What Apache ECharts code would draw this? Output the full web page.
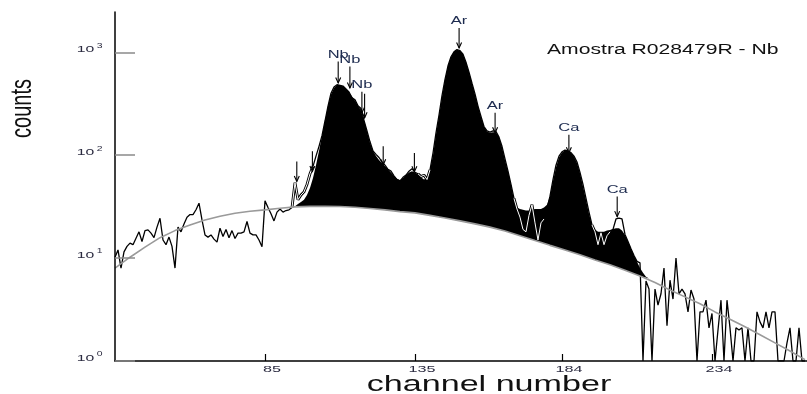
<!DOCTYPE html>
<html><head><meta charset="utf-8">
<script src="https://cdn.jsdelivr.net/npm/echarts@6/dist/echarts.min.js"></script>
<style>html,body{margin:0;padding:0;background:#fff}#c{width:807px;height:394px}</style>
</head><body><div id="c"></div>
<script>
// ---- data ----
const channelStart = 35; // counts[i] belongs to channel 35 + i
const counts = [
  10.2, 12, 8, 11.5, 13, 14, 13.5, 15.6, 18, 14.5,
  18.5, 18.8, 17.5, 15.8, 20, 24.4, 15, 13.5, 16, 13,
  8, 20, 18, 21.5, 25, 26.5, 26.5, 29.5, 34.2, 23.5,
  16.8, 16, 16.8, 15.3, 14.3, 19.5, 16.2, 19, 15.8, 18.5,
  15.5, 17.5, 17.5, 18, 22.7, 17.5, 16.8, 16.8, 15, 12.9,
  36, 31, 27, 23, 28, 30, 28, 29, 29.5, 31,
  54, 37, 41, 44, 52, 66, 78, 98, 122, 155,
  215, 300, 400, 460, 485, 478, 470, 440, 412, 362,
  345, 302, 285, 218, 172, 135, 110, 102, 95, 86,
  80, 73, 70, 63, 58, 56, 61, 64, 70, 74,
  68, 66, 62, 64, 58, 72, 105, 165, 245, 380,
  545, 740, 905, 1010, 1065, 1040, 960, 800, 640, 500,
  395, 300, 238, 190, 172, 168, 172, 170, 150, 122,
  92, 70, 52, 38, 30, 25, 19, 18, 26, 33,
  22, 15, 22, 24, 30, 40, 58, 80, 98, 108,
  112, 110, 106, 98, 86, 68, 52, 38, 28, 21,
  18, 13.5, 17.6, 13.5, 16.5, 18, 19, 24, 24.5, 24,
  17, 14.5, 12.3, 10.6, 9.3, 9, 1, 6, 5, 1,
  5, 3.5, 4.5, 8, 2.2, 6.1, 4, 10, 4.5, 5,
  4.5, 3, 4.9, 4, 1, 3, 3, 3.9, 2.1, 2.9,
  1, 2, 3.9, 1, 3.9, 2.1, 1, 2.1, 2, 2.1,
  1, 2.1, 1, 1, 3, 2.4, 2.1, 3, 2.1, 3,
  3, 1, 1, 1, 1.5, 2.1, 1, 1, 2.1, 1, 1
];
const bgChannels = [35,40,45,50,55,60,65,70,75,80,85,90,95,100,105,110,115,120,125,130,135,140,145,150,155,160,165,170,175,180,185,190,195,200,205,210,215,220,225,230,235,240,245,250,255,260,265];
const bgCounts = [8.0,10.2,12.8,15.8,18.5,21,23.5,25.5,27.3,28.5,29.4,30.5,31.5,31.8,31.8,31.7,31.2,30.3,29.4,28.3,27.5,26,24.5,23,21.5,20,18.3,16.5,14.8,13.3,12,10.8,9.6,8.6,7.6,6.7,5.8,4.9,4.2,3.6,3.0,2.55,2.15,1.8,1.5,1.25,1.03];
const fitStart = 93; // fitCounts[i] belongs to channel 93 + i
const fitCounts = [
  31.1, 31.4, 32, 33.5, 35, 37, 41, 48, 60, 80,
  110, 155, 215, 300, 390, 450, 480, 482, 468, 442,
  410, 372, 338, 305, 268, 222, 170, 132, 110, 98,
  90, 84, 78, 73, 68, 63, 59, 57.5, 60, 64,
  68, 70, 68, 65, 61, 58, 60, 72, 100, 160,
  240, 370, 540, 740, 900, 1010, 1060, 1040, 960, 800,
  640, 500, 390, 300, 235, 190, 170, 165, 167, 167,
  150, 120, 90, 70, 52, 37, 31, 30, 29.5, 29,
  29, 29.5, 30, 30, 30, 31, 33, 40, 56, 76,
  95, 106, 111, 110, 105, 97, 84, 67, 50, 37,
  27, 21, 19, 18, 18, 18, 18.5, 18.8, 19.2, 19.5,
  19.5, 18.5, 16.8, 14.5, 12.4, 10.6, 9.2, 8, 7.2, 6.6,
  6.35
];
// channel ranges where the spectrum trace shows as a white core line (over the fill)
const outlinedRanges = [[94, 101], [136, 140], [168, 178], [194, 200]];
const xTickValues = [85, 135, 184, 234];
const xTickLabels = ['85', '135', '184', '234'];
const yTickValues = [1, 10, 100, 1000];
const yTickExponents = ['0', '1', '2', '3'];
const annChannels = [95.6, 100.8, 109.4, 113.3, 117.3, 118.2, 124.4, 134.8, 149.7, 161.7, 186.3, 202.4];
const annTop      = [87, 109, 815, 729, 414, 396, 122, 105, 1722, 258, 158, 39.6];
const annBottom   = [55.5, 69.4, 503, 450, 257, 231, 80.6, 69, 1101, 165, 105.5, 25.3];
const annLabels   = ['', '', 'Nb', 'Nb', 'Nb', '', '', '', 'Ar', 'Ar', 'Ca', 'Ca'];
const sampleTitle = 'Amostra R028479R - Nb';
const xTitle = 'channel number';
const yTitle = 'counts';

// ---- chart ----
const FONT = 'Liberation Sans, Arial, sans-serif';
const chart = echarts.init(document.getElementById('c'), null, {renderer: 'canvas'});
const spectrum = counts.map((v, i) => [channelStart + i, v]);
const inRanges = c => outlinedRanges.some(r => c >= r[0] && c <= r[1]);
const outlined = counts.map((v, i) => [channelStart + i, inRanges(channelStart + i) ? v : '-']);
const background = bgChannels.map((c, i) => [c, bgCounts[i]]);

const option = {
  animation: false,
  backgroundColor: '#fff',
  grid: {left: 115, right: 0, top: 12, bottom: 33},
  xAxis: {
    type: 'value', min: 35, max: 265.67, z: 10,
    axisLine: {show: true, lineStyle: {color: '#000', width: 1.5}},
    axisTick: {show: true, inside: true, length: 7, customValues: xTickValues, lineStyle: {color: '#000', width: 1.2}},
    axisLabel: {show: false},
    splitLine: {show: false}
  },
  yAxis: {
    type: 'log', logBase: 10, min: 1, max: 2465, z: 10,
    axisLine: {show: true, lineStyle: {color: '#000', width: 1.5}},
    axisTick: {show: true, inside: true, length: 20, customValues: yTickValues, lineStyle: {color: '#8a8a8a', width: 1.5}},
    axisLabel: {show: false},
    splitLine: {show: false}
  },
  graphic: [
    {type: 'text', x: 23, y: 108.5, rotation: Math.PI / 2, scaleY: 1.5,
     style: {text: yTitle, fontSize: 20, fontFamily: FONT, fill: '#111', align: 'center', verticalAlign: 'middle'}},
    {type: 'text', x: 489, y: 385, scaleX: 1.55,
     style: {text: xTitle, fontSize: 22, fontFamily: FONT, fill: '#111', align: 'center', verticalAlign: 'middle'}},
    {type: 'text', x: 547, y: 50, scaleX: 1.51,
     style: {text: sampleTitle, fontSize: 14, fontFamily: FONT, fill: '#111', align: 'left', verticalAlign: 'middle'}}
  ],
  series: [
    { // fitted peaks filled above the background
      type: 'custom', z: 1, silent: true, clip: true,
      data: [[fitStart, fitCounts[0]]],
      renderItem: function (params, api) {
        const pts = [];
        fitCounts.forEach((v, i) => pts.push(api.coord([fitStart + i, v])));
        const fitEnd = fitStart + fitCounts.length - 1;
        for (let i = bgChannels.length - 1; i >= 0; i--) {
          if (bgChannels[i] > fitStart && bgChannels[i] < fitEnd) pts.push(api.coord([bgChannels[i], bgCounts[i]]));
        }
        return {type: 'polygon', shape: {points: pts}, style: {fill: '#000'}};
      }
    },
    {
      type: 'line', z: 3, data: spectrum, showSymbol: false, silent: true,
      lineStyle: {color: '#000', width: 1.3}
    },
    { // outlined segments: thick black + white core
      type: 'line', z: 3, data: outlined, showSymbol: false, silent: true, connectNulls: false,
      lineStyle: {color: '#000', width: 2.8}
    },
    {
      type: 'line', z: 3, data: outlined, showSymbol: false, silent: true, connectNulls: false,
      lineStyle: {color: '#fff', width: 1.0}
    },
    {
      type: 'line', z: 4, data: background, showSymbol: false, silent: true,
      lineStyle: {color: '#9a9a9a', width: 1.6}
    },
    { // peak markers
      type: 'custom', z: 6, clip: false, silent: true,
      data: annChannels.map((c, i) => [c, annTop[i], annBottom[i]]),
      renderItem: function (params, api) {
        const i = params.dataIndex;
        const p1 = api.coord([annChannels[i], annTop[i]]);
        const p2 = api.coord([annChannels[i], annBottom[i]]);
        const children = [
          {type: 'line', shape: {x1: p1[0], y1: p1[1], x2: p2[0], y2: p2[1]}, style: {stroke: '#000', lineWidth: 1.1}},
          {type: 'polyline', shape: {points: [[p2[0] - 2.5, p2[1] - 5.5], [p2[0], p2[1]], [p2[0] + 2.5, p2[1] - 5.5]]},
           style: {stroke: '#000', lineWidth: 1.1, fill: null}}
        ];
        if (annLabels[i]) {
          children.push({type: 'text', x: p1[0], y: p1[1] - 1.5, scaleX: 1.65,
            style: {text: annLabels[i], fill: '#1d2b4f', fontSize: 10, fontFamily: FONT, align: 'center', verticalAlign: 'bottom'}});
        }
        return {type: 'group', children: children};
      }
    },
    { // x tick labels
      type: 'custom', z: 6, clip: false, silent: true,
      data: xTickValues.map(v => [v, 1]),
      renderItem: function (params, api) {
        const i = params.dataIndex;
        const p = api.coord([xTickValues[i], 1]);
        return {type: 'text', x: p[0] + 7, y: p[1] + 8.5, scaleX: 1.8,
          style: {text: xTickLabels[i], fill: '#2b2b40', fontSize: 9, fontFamily: FONT, align: 'center', verticalAlign: 'middle'}};
      }
    },
    { // y tick labels 10^n
      type: 'custom', z: 6, clip: false, silent: true,
      data: yTickValues.map(v => [35, v]),
      renderItem: function (params, api) {
        const i = params.dataIndex;
        const p = api.coord([35, yTickValues[i]]);
        return {type: 'group', children: [
          {type: 'text', x: p[0] - 38.3, y: p[1] - 2.5, scaleX: 1.75,
           style: {text: '10', fill: '#2b2b40', fontSize: 9, fontFamily: FONT, align: 'left', verticalAlign: 'middle'}},
          {type: 'text', x: p[0] - 18.3, y: p[1] - 6.5, scaleX: 1.6,
           style: {text: yTickExponents[i], fill: '#2b2b40', fontSize: 6.5, fontFamily: FONT, align: 'left', verticalAlign: 'middle'}}
        ]};
      }
    }
  ]
};
chart.setOption(option);
</script>
</body></html>
